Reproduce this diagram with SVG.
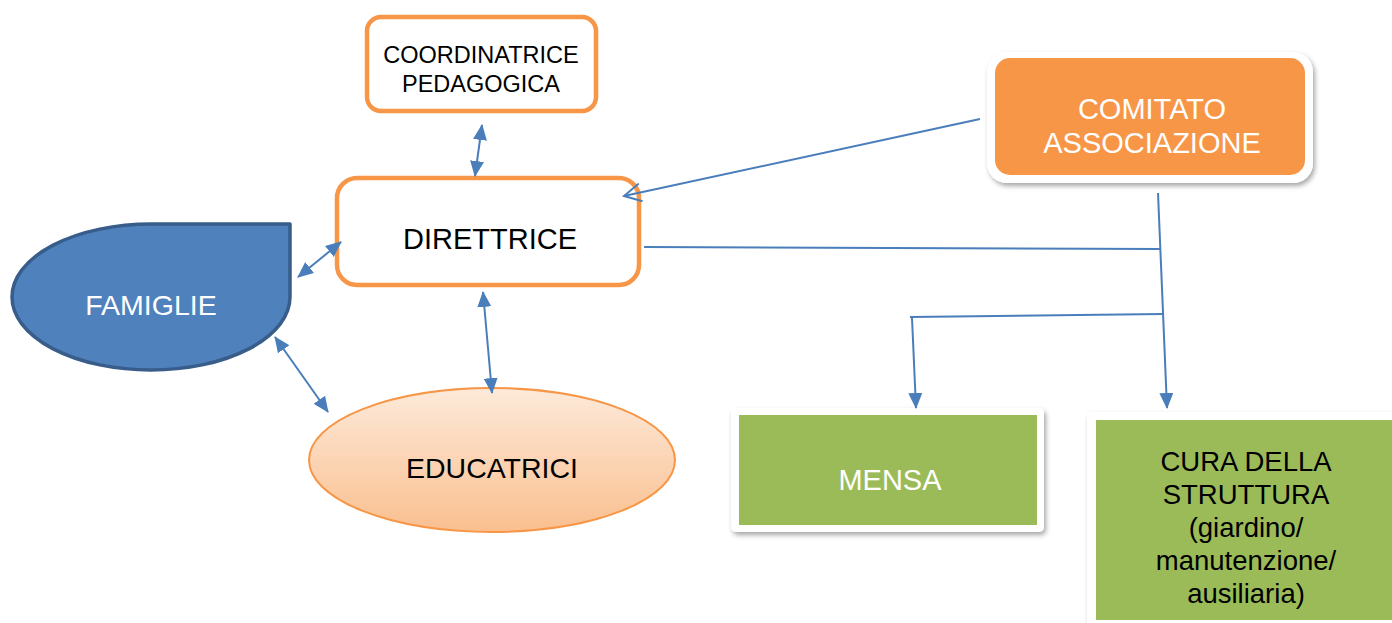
<svg xmlns="http://www.w3.org/2000/svg" width="1392" height="623" viewBox="0 0 1392 623">
<style>
text{font-family:"Liberation Sans",Arial,sans-serif;text-anchor:middle}
.blk{fill:#000}
.wht{fill:#fff}
.conn{stroke:#4A7EBB;stroke-width:2;fill:none}
.box{fill:#fff;stroke:#F79646;stroke-width:4.5}
.card{fill:#fff}
</style>
<defs>
<marker id="tri" viewBox="0 0 16 14" refX="15" refY="7" markerWidth="16" markerHeight="14" markerUnits="userSpaceOnUse" orient="auto-start-reverse">
<path d="M0,0 L16,7 L0,14 Z" fill="#4A7EBB"/>
</marker>
<marker id="open" viewBox="0 0 20 20" refX="18" refY="10" markerWidth="20" markerHeight="20" markerUnits="userSpaceOnUse" orient="auto">
<path d="M1,1 L18,10 L1,19" fill="none" stroke="#4A7EBB" stroke-width="2"/>
</marker>
<filter id="shadow" x="-10%" y="-10%" width="125%" height="130%">
<feDropShadow dx="2" dy="3" stdDeviation="2.5" flood-color="#000" flood-opacity="0.35"/>
</filter>
<linearGradient id="edu" x1="0" y1="0" x2="0" y2="1">
<stop offset="0" stop-color="#FDEADA"/>
<stop offset="1" stop-color="#FABF8F"/>
</linearGradient>
</defs>

<g id="coordinatrice">
<rect class="box" x="367" y="17" width="229" height="94" rx="14"/>
<text class="blk" x="481" y="63" font-size="23.5">COORDINATRICE</text>
<text class="blk" x="481" y="92" font-size="23.5">PEDAGOGICA</text>
</g>

<g id="direttrice">
<rect class="box" x="337" y="178" width="302" height="107" rx="20"/>
<text class="blk" x="490" y="249" font-size="29">DIRETTRICE</text>
</g>

<g id="famiglie">
<path d="M151,224 L290,224 L290,297 A139,73 0 1 1 151,224 Z" fill="#4F81BD" stroke="#385D8A" stroke-width="3.5" stroke-linejoin="round"/>
<text class="wht" x="151" y="315" font-size="28.5">FAMIGLIE</text>
</g>

<g id="educatrici">
<ellipse cx="492" cy="460" rx="183" ry="72" fill="url(#edu)" stroke="#F79646" stroke-width="2"/>
<text class="blk" x="492" y="478" font-size="28.5">EDUCATRICI</text>
</g>

<g id="comitato">
<rect class="card" x="987" y="52" width="326" height="131" rx="20" filter="url(#shadow)"/>
<rect x="995" y="58" width="310" height="117" rx="15" fill="#F79646"/>
<text class="wht" x="1152" y="119" font-size="29">COMITATO</text>
<text class="wht" x="1152" y="153" font-size="29">ASSOCIAZIONE</text>
</g>

<g id="mensa">
<rect class="card" x="731" y="408" width="313" height="124" rx="5" filter="url(#shadow)"/>
<rect x="739" y="415" width="298" height="110" fill="#9BBB59"/>
<text class="wht" x="890" y="490" font-size="29">MENSA</text>
</g>

<g id="cura">
<rect class="card" x="1087" y="412" width="320" height="220" rx="5" filter="url(#shadow)"/>
<rect x="1096" y="420" width="300" height="200" fill="#9BBB59"/>
<text class="blk" x="1246" y="471" font-size="27.5">CURA DELLA</text>
<text class="blk" x="1246" y="504" font-size="27.5">STRUTTURA</text>
<text class="blk" x="1246" y="537" font-size="27.5">(giardino/</text>
<text class="blk" x="1246" y="570" font-size="27.5">manutenzione/</text>
<text class="blk" x="1246" y="603" font-size="27.5">ausiliaria)</text>
</g>

<g id="connectors">
<line class="conn" x1="482" y1="125" x2="475" y2="176" marker-start="url(#tri)" marker-end="url(#tri)"/>
<line class="conn" x1="341" y1="242" x2="298" y2="277" marker-start="url(#tri)" marker-end="url(#tri)"/>
<line class="conn" x1="275" y1="337" x2="328" y2="412" marker-start="url(#tri)" marker-end="url(#tri)"/>
<line class="conn" x1="483" y1="292" x2="492" y2="393" marker-start="url(#tri)" marker-end="url(#tri)"/>
<line class="conn" x1="980" y1="119" x2="624" y2="196" marker-end="url(#open)"/>
<line class="conn" x1="644" y1="247" x2="1161" y2="249"/>
<line class="conn" x1="1158" y1="193" x2="1167" y2="408" marker-end="url(#tri)"/>
<line class="conn" x1="910" y1="317" x2="1163" y2="314"/>
<line class="conn" x1="912" y1="318" x2="916" y2="408" marker-end="url(#tri)"/>
</g>
</svg>
